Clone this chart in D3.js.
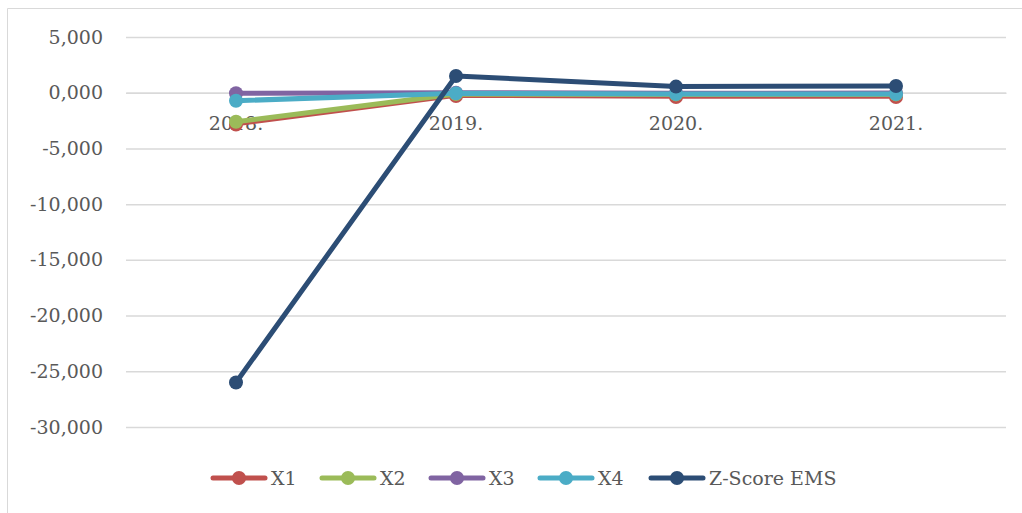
<!DOCTYPE html>
<html><head><meta charset="utf-8">
<script src="https://cdn.jsdelivr.net/npm/d3@7"></script>
<style>body{margin:0;background:#fff}svg{display:block}</style>
</head><body><svg id="c" width="1022" height="513"></svg>
<script>
const categories = ["2018.", "2019.", "2020.", "2021."];
const seriesNames = ["X1", "X2", "X3", "X4", "Z-Score EMS"];
const x1 = [-2.85, -0.3, -0.38, -0.38];
const x2 = [-2.6, -0.12, -0.15, -0.15];
const x3 = [-0.05, 0.0, -0.05, -0.02];
const x4 = [-0.72, -0.05, -0.12, -0.12];
const zScore = [-26.0, 1.5, 0.55, 0.6];
const yTicks = [5, 0, -5, -10, -15, -20, -25, -30];
const colors = ["#c0504d", "#9bbb59", "#8064a2", "#4bacc6", "#2c4d75"];

const svg = d3.select("#c");
const font = "'DejaVu Serif', serif";
const fs = 19;
svg.append("path").attr("d","M7.5,513 V8.5 H1022").attr("fill","none").attr("stroke","#d9d9d9").attr("stroke-width",1);

const x = d3.scaleBand().domain(categories).range([126, 1006]);
const y = d3.scaleLinear().domain([-30, 5]).range([427, 37]);

const fmt = v => d3.format(",.3f")(v).replace("\u2212","-").replace(".", "#").replace(/,/g, ".").replace("#", ",");

const yAxis = d3.axisLeft(y).tickValues(yTicks).tickSize(-880).tickFormat(fmt);
const gy = svg.append("g").attr("transform","translate(126,0)").call(yAxis);
gy.select(".domain").remove();
gy.selectAll(".tick line").attr("stroke","#d9d9d9").attr("stroke-width",1.5);
gy.selectAll(".tick text").attr("x",-23).attr("font-family",font).attr("font-size",fs).attr("fill","#595959");

const xAxis = d3.axisBottom(x).tickSize(0);
const gx = svg.append("g").attr("transform",`translate(0,${y(0)})`).call(xAxis);
gx.select(".domain").attr("stroke","#d9d9d9").attr("stroke-width",1.5);
gx.selectAll(".tick text").attr("dy",0).attr("y",37).attr("font-family",font).attr("font-size",fs).attr("fill","#595959");

const data = [x1, x2, x3, x4, zScore];
const line = d3.line().x((d,i)=>x(categories[i]) + x.bandwidth()/2).y(d=>y(d));
const widths = [3.5, 5, 5, 5, 5];
data.forEach((s, k) => {
  svg.append("path").datum(s).attr("d", line).attr("fill","none").attr("stroke",colors[k]).attr("stroke-width",widths[k]).attr("stroke-linejoin","round");
  svg.selectAll(null).data(s).enter().append("circle")
    .attr("cx",(d,i)=>x(categories[i]) + x.bandwidth()/2).attr("cy",d=>y(d)).attr("r",7).attr("fill",colors[k]);
});

const legX = [213, 322, 431, 540, 651];
const lg = svg.append("g");
seriesNames.forEach((n,k)=>{
  const g = lg.append("g").attr("transform",`translate(${legX[k]},478)`);
  g.append("line").attr("x1",0).attr("x2",52).attr("stroke",colors[k]).attr("stroke-width",5).attr("stroke-linecap","round");
  g.append("circle").attr("cx",26).attr("r",7).attr("fill",colors[k]);
  g.append("text").attr("x",58).attr("y",7).attr("font-family",font).attr("font-size",fs).attr("fill","#595959").text(n);
});
</script></body></html>
